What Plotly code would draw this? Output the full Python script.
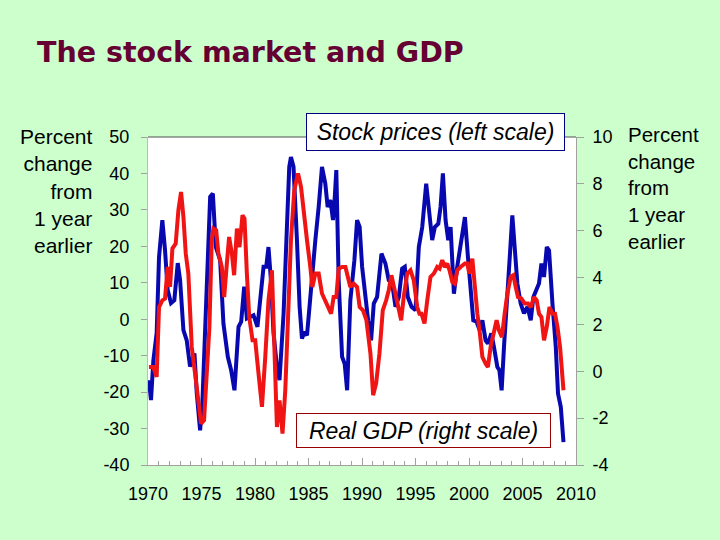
import plotly.graph_objects as go

# ---- data (decimal years, % change from 1 year earlier)
stock_years = [
    1970.09, 1970.28, 1970.50, 1970.81,
    1971.03, 1971.34, 1971.59, 1971.84,
    1972.15, 1972.46, 1972.78,
    1973.00, 1973.31, 1973.62, 1973.93,
    1974.34, 1974.56, 1974.87,
    1975.08, 1975.50, 1975.81,
    1976.06, 1976.34, 1976.74,
    1977.05, 1977.46, 1977.77,
    1978.08, 1978.46, 1978.71, 1978.99,
    1979.24, 1979.55, 1979.86,
    1980.23, 1980.49, 1980.80,
    1981.05, 1981.26, 1981.49, 1981.73,
    1982.05, 1982.29, 1982.67, 1982.99,
    1983.20, 1983.36, 1983.60, 1983.92,
    1984.17, 1984.39, 1984.61, 1984.86,
    1985.17, 1985.64, 1985.95,
    1986.26, 1986.57, 1986.79,
    1987.04, 1987.29, 1987.44, 1987.60, 1987.82,
    1988.14, 1988.38, 1988.61, 1988.91,
    1989.29, 1989.54, 1989.78,
    1990.01, 1990.26, 1990.57, 1990.85,
    1991.10, 1991.41, 1991.82,
    1992.19, 1992.50, 1992.82,
    1993.13, 1993.44, 1993.75,
    1994.00, 1994.28, 1994.63,
    1995.00, 1995.31, 1995.63,
    1996.00, 1996.25, 1996.56, 1996.81,
    1997.13, 1997.34, 1997.56, 1997.81,
    1998.06, 1998.28, 1998.59, 1998.90,
    1999.31, 1999.62, 1999.90,
    2000.15, 2000.40, 2000.71, 2000.99,
    2001.25, 2001.55, 2001.77,
    2002.09, 2002.33, 2002.65, 2002.84,
    2003.05, 2003.27, 2003.59, 2003.83,
    2004.05, 2004.27, 2004.52, 2004.83,
    2005.14, 2005.46, 2005.77,
    2006.02, 2006.33, 2006.54, 2006.77,
    2007.01, 2007.27, 2007.48, 2007.80,
    2008.11, 2008.32, 2008.58, 2008.83,
]
stock_pct = [
    -16.7, -22.2, -11.3, -3.8,
    17.0, 27.2, 19.0, 8.0,
    4.4, 5.2, 15.4,
    10.7, -3.0, -5.8, -13.0,
    -9.4, -20.4, -30.5,
    -23.0, 10.7, 33.6,
    34.5, 19.8, 16.2,
    -1.2, -10.3, -14.0,
    -19.5, -2.1, -0.7, 8.9,
    0.2, 0.6, 1.1,
    -2.1, 6.1, 14.4,
    14.4, 19.8, 10.7, -3.8,
    -13.0, -16.7, 1.5, 26.2,
    41.8, 44.5, 41.8, 21.7,
    3.4, -5.3, -3.5, -4.4,
    7.0, 21.7, 30.8,
    41.8, 37.2, 30.8,
    32.7, 27.2, 32.7, 40.9, 10.7,
    -10.3, -12.2, -19.5, 5.2,
    16.2, 27.2, 25.3,
    14.4, 7.0, -0.3, -5.8,
    4.3, 6.1, 18.0,
    15.3, 10.7, 9.8,
    3.4, 6.1, 13.9,
    14.4, 6.1, 3.4,
    2.5, 19.8, 25.3,
    37.2, 30.8, 21.7, 25.3,
    26.2, 30.8, 40.0, 27.2,
    21.7, 25.3, 7.0, 14.4,
    21.7, 28.0, 17.1,
    8.9, -0.3, -0.7, -3.0,
    -0.3, -5.8, -6.7,
    -3.9, -7.6, -13.1, -14.0,
    -19.5, -7.6, 9.8, 18.0,
    28.5, 19.8, 9.8, 4.3,
    1.6, 3.4, -0.3,
    6.1, 8.0, 9.8, 15.3,
    11.6, 19.8, 18.9, 4.3,
    -7.6, -20.4, -24.1, -33.7,
]

gdp_years = [
    1970.09, 1970.50, 1970.81,
    1971.03, 1971.34, 1971.59, 1971.84,
    1972.06, 1972.28, 1972.59, 1972.84,
    1973.09, 1973.31, 1973.53, 1973.77,
    1974.09, 1974.40, 1974.71, 1974.96,
    1975.24, 1975.50, 1975.74, 1975.96,
    1976.11, 1976.37, 1976.58, 1976.90,
    1977.12, 1977.37, 1977.58, 1977.84,
    1978.05, 1978.31, 1978.55, 1978.83,
    1979.02, 1979.24, 1979.46, 1979.77,
    1980.02, 1980.33, 1980.65, 1980.96,
    1981.26, 1981.58, 1981.80,
    1982.05, 1982.29, 1982.57, 1982.83,
    1983.08, 1983.36, 1983.67,
    1984.02, 1984.30, 1984.54, 1984.86,
    1985.17, 1985.36, 1985.64, 1985.95,
    1986.26, 1986.57, 1986.88,
    1987.11, 1987.35, 1987.60, 1987.82,
    1988.14, 1988.45, 1988.70, 1988.91,
    1989.22, 1989.54, 1989.78,
    1990.09, 1990.41, 1990.79,
    1991.04, 1991.32, 1991.63, 1991.94,
    1992.26, 1992.50, 1992.75, 1992.97,
    1993.19, 1993.44, 1993.66, 1993.90,
    1994.22, 1994.53, 1994.84,
    1995.16, 1995.37, 1995.56, 1995.84,
    1996.10, 1996.40, 1996.71,
    1997.03, 1997.25, 1997.50, 1997.74, 1997.97,
    1998.18, 1998.44, 1998.68, 1998.90,
    1999.21, 1999.62, 1999.84,
    2000.03, 2000.31, 2000.52, 2000.78,
    2001.02, 2001.25, 2001.55, 2001.77,
    2002.02, 2002.27, 2002.58, 2002.80,
    2003.08, 2003.33, 2003.59, 2003.90,
    2004.15, 2004.36, 2004.58, 2004.90,
    2005.21, 2005.51, 2005.77,
    2006.08, 2006.33, 2006.54, 2006.77,
    2007.01, 2007.27, 2007.52, 2007.80,
    2008.04, 2008.27, 2008.51, 2008.83,
]
gdp_pct = [
    0.18, 0.18, -0.24,
    2.74, 3.03, 3.10, 4.45,
    3.60, 5.24, 5.45, 6.87,
    7.65, 6.59, 5.02, 4.17,
    1.04, -0.10, -1.24, -2.23,
    -2.09, -0.10, 1.89, 5.59,
    6.09, 6.02, 5.02, 4.45,
    3.17, 4.60, 5.73, 5.02,
    4.10, 6.09, 5.30, 6.66,
    6.52, 4.17, 2.32, 1.32,
    1.32, -0.10, -1.52, 0.61,
    3.03, 4.31, 1.32,
    -2.38, -1.24, -2.66, -0.81,
    2.74, 5.59, 7.73,
    8.44, 7.87, 6.73, 5.59,
    4.45, 3.60, 4.17, 4.17,
    3.32, 3.03, 2.74,
    2.46, 3.17, 3.17, 4.38,
    4.45, 4.45, 3.88, 3.60,
    3.74, 3.60, 2.74,
    2.60, 2.18, 0.76,
    -1.02, -0.52, 0.76, 2.60,
    3.03, 3.46, 4.10, 3.60,
    3.03, 2.60, 2.18, 3.17,
    4.17, 4.31, 3.88,
    2.74, 2.46, 2.46, 2.04,
    3.03, 4.03, 4.17,
    4.45, 4.38, 4.74, 4.45, 4.60,
    4.31, 3.81, 3.74, 4.31,
    4.45, 4.60, 4.60,
    4.17, 4.81, 3.60, 2.46,
    1.61, 0.61, 0.33, 0.18,
    1.04, 1.61, 2.18, 1.75,
    1.46, 2.46, 3.32, 4.03,
    4.10, 3.60, 3.17, 3.10,
    2.89, 2.89, 2.74,
    3.17, 3.03, 2.46, 2.32,
    1.32, 1.89, 2.74, 2.46,
    2.46, 1.89, 1.04, -0.81,
]

x_tick_vals = [1970, 1975, 1980, 1985, 1990, 1995, 2000, 2005, 2010]
x_tick_labels = ["1970", "1975", "1980", "1985", "1990", "1995", "2000", "2005", "2010"]
left_tick_vals = [-40, -30, -20, -10, 0, 10, 20, 30, 40, 50]
left_tick_labels = ["-40", "-30", "-20", "-10", "0", "10", "20", "30", "40", "50"]
right_tick_vals = [-4, -2, 0, 2, 4, 6, 8, 10]
right_tick_labels = ["-4", "-2", "0", "2", "4", "6", "8", "10"]

title_text = "The stock market and GDP"
axis_title = "Percent<br>change<br>from<br>1 year<br>earlier"
stock_label = "Stock prices (left scale)"
gdp_label = "Real GDP (right scale)"

BG = "#ccffcc"
AX = "#a0a0a0"

fig = go.Figure()
fig.add_trace(go.Scatter(x=stock_years, y=stock_pct, mode="lines",
                         line=dict(color="#0808b0", width=4), yaxis="y",
                         showlegend=False, name="Stock prices"))
fig.add_trace(go.Scatter(x=gdp_years, y=gdp_pct, mode="lines",
                         line=dict(color="#f01414", width=4), yaxis="y2",
                         showlegend=False, name="Real GDP"))

fig.update_layout(
    width=720, height=540,
    margin=dict(l=148, r=144, t=137, b=75, pad=0),
    paper_bgcolor=BG, plot_bgcolor="white",
    font=dict(family="Liberation Sans, Arial, sans-serif", size=18, color="black"),
    title=dict(text="<b>" + title_text + "</b>",
               font=dict(family="DejaVu Sans", size=28.5, color="#660033"),
               x=37 / 720, xanchor="left", xref="container",
               y=1 - 52 / 540, yanchor="middle", yref="container"),
    xaxis=dict(range=[1970, 2010], tickmode="array", tickvals=x_tick_vals,
               ticktext=x_tick_labels, ticks="inside", ticklen=7, tickcolor=AX,
               showline=True, linecolor=AX, linewidth=1, showgrid=False,
               zeroline=False, ticklabelstandoff=12,
               minor=dict(ticks="inside", ticklen=4, dtick=1, tick0=1970,
                          tickcolor=AX, showgrid=False)),
    yaxis=dict(range=[-40, 50], tickmode="array", tickvals=left_tick_vals,
               ticktext=left_tick_labels, ticks="outside", ticklen=6,
               tickcolor=AX, showline=True, linecolor="#b0c4b0", showgrid=False,
               zeroline=False, ticklabelstandoff=8),
    yaxis2=dict(range=[-4, 10], overlaying="y", side="right", tickmode="array",
                tickvals=right_tick_vals, ticktext=right_tick_labels,
                ticks="outside", ticklen=7, tickcolor=AX, showline=True,
                linecolor=AX, showgrid=False, zeroline=False,
                ticklabelstandoff=5),
    shapes=[dict(type="line", xref="paper", yref="paper", x0=0, x1=1, y0=1, y1=1,
                 line=dict(color="#505050", width=1))],
    annotations=[
        dict(text=axis_title, xref="paper", yref="paper",
             x=(95 - 148) / 428, y=(465 - 191) / 328, xanchor="right",
             yanchor="middle", align="right", showarrow=False,
             font=dict(size=21, color="black")),
        dict(text=axis_title, xref="paper", yref="paper",
             x=(626 - 148) / 428, y=(465 - 188) / 328, xanchor="left",
             yanchor="middle", align="left", showarrow=False,
             font=dict(size=20.5, color="black")),
        dict(text="<i>" + stock_label + "</i>", xref="paper", yref="paper",
             x=(435.5 - 148) / 428, y=(465 - 132) / 328, xanchor="center",
             yanchor="middle", showarrow=False, bgcolor="white",
             bordercolor="#000080", borderwidth=1, borderpad=2,
             width=253, height=32, font=dict(size=23, color="black")),
        dict(text="<i>" + gdp_label + "</i>", xref="paper", yref="paper",
             x=(423.5 - 148) / 428, y=(465 - 430.5) / 328, xanchor="center",
             yanchor="middle", showarrow=False, bgcolor="white",
             bordercolor="#990000", borderwidth=1, borderpad=2,
             width=249, height=29, font=dict(size=23, color="black")),
    ],
)

fig.write_html("out.html",
               config={"displayModeBar": False},
               post_script="document.body.style.margin='0';"
                           "document.body.style.background='" + BG + "';")
